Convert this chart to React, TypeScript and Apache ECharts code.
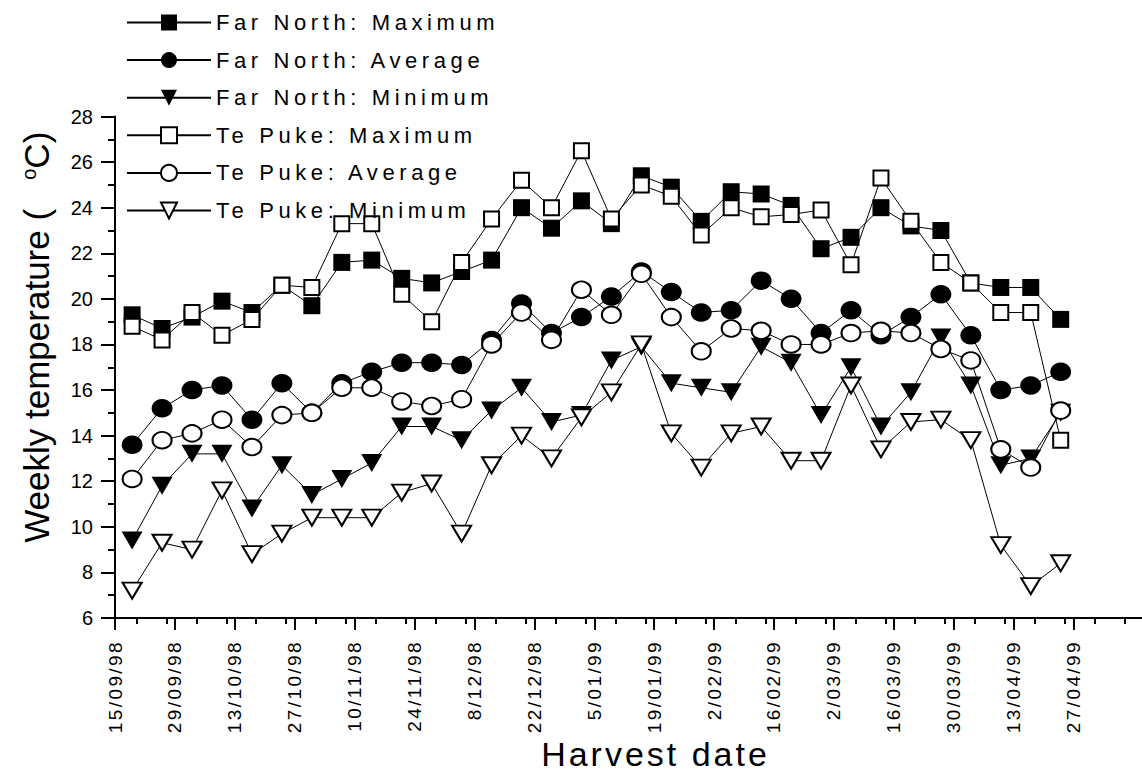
import React, { useEffect, useRef } from "react";
import * as echarts from "echarts";

// Weekly harvest dates (points)
const harvestDates = [
  "19/09/98", "26/09/98", "3/10/98", "10/10/98", "17/10/98", "24/10/98", "31/10/98", "7/11/98",
  "14/11/98", "21/11/98", "28/11/98", "5/12/98", "12/12/98", "19/12/98", "26/12/98", "2/01/99",
  "9/01/99", "16/01/99", "23/01/99", "30/01/99", "6/02/99", "13/02/99", "20/02/99", "27/02/99",
  "6/03/99", "13/03/99", "20/03/99", "27/03/99", "3/04/99", "10/04/99", "17/04/99", "24/04/99",
];

// Axis tick labels
const tickLabels = [
  "15/09/98", "29/09/98", "13/10/98", "27/10/98", "10/11/98", "24/11/98", "8/12/98", "22/12/98",
  "5/01/99", "19/01/99", "2/02/99", "16/02/99", "2/03/99", "16/03/99", "30/03/99", "13/04/99", "27/04/99",
];

const farNorthMax = [19.3, 18.7, 19.2, 19.9, 19.4, 20.6, 19.7, 21.6, 21.7, 20.9, 20.7, 21.2, 21.7, 24.0, 23.1, 24.3,
  23.3, 25.4, 24.9, 23.4, 24.7, 24.6, 24.1, 22.2, 22.7, 24.0, 23.2, 23.0, 20.7, 20.5, 20.5, 19.1];
const farNorthAvg = [13.6, 15.2, 16.0, 16.2, 14.7, 16.3, 15.0, 16.3, 16.8, 17.2, 17.2, 17.1, 18.2, 19.8, 18.5, 19.2,
  20.1, 21.2, 20.3, 19.4, 19.5, 20.8, 20.0, 18.5, 19.5, 18.4, 19.2, 20.2, 18.4, 16.0, 16.2, 16.8];
const farNorthMin = [9.4, 11.8, 13.2, 13.2, 10.8, 12.7, 11.4, 12.1, 12.8, 14.4, 14.4, 13.8, 15.1, 16.1, 14.6, 14.9,
  17.3, 17.9, 16.3, 16.1, 15.9, 17.9, 17.2, 14.9, 17.0, 14.4, 15.9, 18.3, 16.2, 12.7, 13.0, 15.0];
const tePukeMax = [18.8, 18.2, 19.4, 18.4, 19.1, 20.6, 20.5, 23.3, 23.3, 20.2, 19.0, 21.6, 23.5, 25.2, 24.0, 26.5,
  23.5, 25.0, 24.5, 22.8, 24.0, 23.6, 23.7, 23.9, 21.5, 25.3, 23.4, 21.6, 20.7, 19.4, 19.4, 13.8];
const tePukeAvg = [12.1, 13.8, 14.1, 14.7, 13.5, 14.9, 15.0, 16.1, 16.1, 15.5, 15.3, 15.6, 18.0, 19.4, 18.2, 20.4,
  19.3, 21.1, 19.2, 17.7, 18.7, 18.6, 18.0, 18.0, 18.5, 18.6, 18.5, 17.8, 17.3, 13.4, 12.6, 15.1];
const tePukeMin = [7.2, 9.3, 9.0, 11.6, 8.8, 9.7, 10.4, 10.4, 10.4, 11.5, 11.9, 9.7, 12.7, 14.0, 13.0, 14.8,
  15.9, 18.0, 14.1, 12.6, 14.1, 14.4, 12.9, 12.9, 16.2, 13.4, 14.6, 14.7, 13.8, 9.2, 7.4, 8.4];

const seriesNames = [
  "Far North: Maximum", "Far North: Average", "Far North: Minimum",
  "Te Puke: Maximum", "Te Puke: Average", "Te Puke: Minimum",
];

const FONT = '"Liberation Sans", Arial, Helvetica, sans-serif';
const BLACK = "#000";
const ORIGIN = Date.UTC(1998, 8, 15);

function dayOffset(s: string): number {
  const [d, m, y] = s.split("/").map(Number);
  return Math.round((Date.UTC(1900 + y, m - 1, d) - ORIGIN) / 86400000);
}

const majorDays = tickLabels.map(dayOffset);
const minorDays: number[] = [];
for (let d = 5; d <= 236; d += 7) minorDays.push(d);

function makeSeries(name: string, values: number[], symbol: string, filled: boolean, size: number[] | number, rotate = 0) {
  return {
    name,
    type: "line",
    data: harvestDates.map((d, i) => [dayOffset(d), values[i]]),
    symbol,
    symbolSize: size,
    symbolRotate: rotate,
    showSymbol: true,
    showAllSymbol: true,
    itemStyle: filled
      ? { color: BLACK }
      : { color: "#fff", borderColor: BLACK, borderWidth: 2 },
    lineStyle: { color: BLACK, width: 1 },
    emphasis: { disabled: true },
    silent: true,
  };
}

export default function App() {
  const ref = useRef<HTMLDivElement>(null);

  useEffect(() => {
    if (!ref.current) return;
    const chart = echarts.init(ref.current, null, { renderer: "svg" });
    const tickLine = { color: BLACK, width: 2 };
    chart.setOption({
      animation: false,
      backgroundColor: "#fff",
      textStyle: { fontFamily: FONT, color: BLACK },
      grid: { left: 115, right: 0, top: 116.5, bottom: 154.3, containLabel: false },
      legend: {
        orient: "vertical",
        left: 121,
        top: 6.5,
        itemWidth: 84,
        itemHeight: 20,
        itemGap: 15.6,
        selectedMode: false,
        textStyle: { fontSize: 22, color: BLACK, fontFamily: FONT },
        data: seriesNames,
      },
      xAxis: [
        {
          type: "value",
          min: 0,
          max: 240,
          position: "bottom",
          axisLine: { show: true, onZero: false, lineStyle: tickLine },
          axisTick: { show: true, inside: false, length: 12, lineStyle: tickLine, customValues: majorDays },
          splitLine: { show: false },
          axisLabel: {
            customValues: majorDays,
            rotate: 90,
            margin: 22,
            fontSize: 19,
            color: BLACK,
            fontFamily: FONT,
            hideOverlap: false,
            formatter: (v: number) => {
              const i = majorDays.indexOf(Math.round(v));
              return i >= 0 ? tickLabels[i] : "";
            },
          },
          name: "Harvest date",
          nameLocation: "middle",
          nameGap: 119,
          nameTextStyle: { fontSize: 34, color: BLACK, fontFamily: FONT, padding: [0, 0, 0, 54] },
        },
        {
          type: "value",
          min: 0,
          max: 240,
          position: "bottom",
          axisLine: { show: false, onZero: false },
          axisTick: { show: true, inside: false, length: 6, lineStyle: tickLine, customValues: minorDays },
          axisLabel: { show: false },
          splitLine: { show: false },
        },
      ],
      yAxis: {
        type: "value",
        min: 6,
        max: 28,
        interval: 2,
        axisLine: { show: true, onZero: false, lineStyle: tickLine },
        axisTick: { show: true, inside: false, length: 14, lineStyle: tickLine },
        minorTick: { show: true, splitNumber: 2, length: 7, lineStyle: tickLine },
        splitLine: { show: false },
        axisLabel: { fontSize: 20, color: BLACK, margin: 22, fontFamily: FONT },
        name: "Weekly temperature (   {sup|o}C)",
        nameLocation: "middle",
        nameRotate: 90,
        nameGap: 61,
        nameTextStyle: {
          fontSize: 35,
          color: BLACK,
          fontFamily: FONT,
          padding: [0, 0, 0, 60],
          rich: {
            sup: { fontSize: 20, color: BLACK, fontFamily: FONT, verticalAlign: "top" },
          },
        },
      },
      series: [
        makeSeries(seriesNames[0], farNorthMax, "rect", true, 17),
        makeSeries(seriesNames[1], farNorthAvg, "circle", true, [21, 18.5]),
        makeSeries(seriesNames[2], farNorthMin, "triangle", true, [21, 18], 180),
        makeSeries(seriesNames[3], tePukeMax, "rect", false, 15),
        makeSeries(seriesNames[4], tePukeAvg, "circle", false, [19, 16.5]),
        makeSeries(seriesNames[5], tePukeMin, "triangle", false, [19, 16], 180),
      ],
    });
    return () => chart.dispose();
  }, []);

  return (
    <>
      <style>{`
        .chartbox text[style*="22px"] { letter-spacing: 4.6px; }
        .chartbox text[style*="34px"] { letter-spacing: 3px; }
        .chartbox text[style*="19px"] { letter-spacing: 2.4px; }
      `}</style>
      <div
        className="chartbox"
        ref={ref}
        style={{ position: "absolute", left: 0, top: 0, width: 1142, height: 776, background: "#fff" }}
      />
    </>
  );
}
